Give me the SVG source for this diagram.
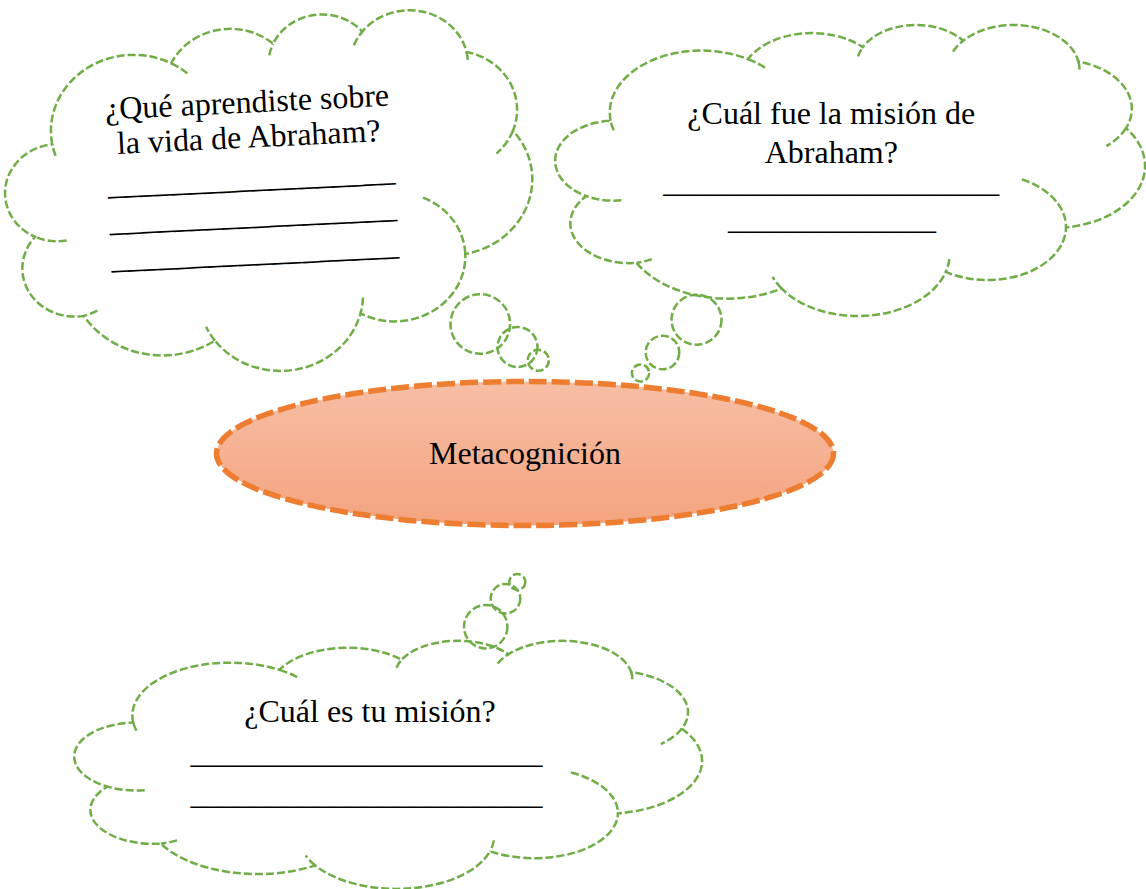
<svg xmlns="http://www.w3.org/2000/svg" xmlns:xlink="http://www.w3.org/1999/xlink" width="1146" height="889" viewBox="0 0 1146 889">
<defs>
<style>
.t{font-family:"Liberation Serif","Times New Roman",serif;font-size:32px;fill:#000;text-anchor:middle}
.bubble{fill:none;stroke:#70ad47;stroke-width:2.5;stroke-dasharray:8 3}
</style>
<linearGradient id="og" x1="0" y1="0" x2="0" y2="1">
<stop offset="0" stop-color="#f7bea4"/>
<stop offset="1" stop-color="#f4a47f"/>
</linearGradient>
<path id="cloudOutline" fill="#ffffff" stroke="#70ad47" stroke-width="2.5" stroke-dasharray="8 3" vector-effect="non-scaling-stroke" d="M3900 14370A6753 9190 0 0 1 14005 5202A5333 7267 0 0 1 22456 3432A4365 5945 0 0 1 29833 2481A4857 6595 0 0 1 38318 5576A5333 7273 0 0 1 41818 15459A6775 9220 0 0 1 37404 30202A5785 7867 0 0 1 28556 36812A6752 9215 0 0 1 16480 39263A7720 10543 0 0 1 5805 35469A4360 5918 0 0 1 2114 25547A4345 5945 0 0 1 3900 14370Z"/>
<path id="cloudCreases" fill="none" stroke="#70ad47" stroke-width="2.5" stroke-dasharray="8 3" vector-effect="non-scaling-stroke" d="M4693 26177A4345 5945 0 0 1 2114 25547M6928 34899A4360 5918 0 0 1 5805 35469M16480 39263A6752 9215 0 0 1 15812 37523M28823 34903A6752 9215 0 0 1 28556 36812M34155 23068A5785 7867 0 0 1 37404 30202M41818 15459A5333 7273 0 0 1 40371 18136M38318 5576A4857 6595 0 0 1 38395 6840M29091 4093A4857 6595 0 0 1 29833 2481M22097 4822A4365 5945 0 0 1 22456 3432M14005 5202A6753 9190 0 0 1 15305 6550M4127 15789A6753 9190 0 0 1 3900 14370"/>
</defs>
<rect width="1146" height="889" fill="#ffffff"/>

<g id="cloud-vida-abraham">
<g transform="rotate(-2.8 270 193)">
<use xlink:href="#cloudOutline" transform="translate(7.5 16) scale(0.0121528 0.0081944)"/>
<use xlink:href="#cloudCreases" transform="translate(7.5 16) scale(0.0121528 0.0081944)"/>
<text class="t" x="251.5" y="111.6">¿Qué aprendiste sobre</text>
<text class="t" x="251.5" y="146.6">la vida de Abraham?</text>
<text class="t" x="252" y="186.7">__________________</text>
<text class="t" x="252" y="223.3">__________________</text>
<text class="t" x="252" y="260.7">__________________</text>
</g>
</g>

<g id="cloud-mision-abraham">
<use xlink:href="#cloudOutline" transform="translate(557.6 24) scale(0.0135926 0.0067361)"/>
<use xlink:href="#cloudCreases" transform="translate(557.6 24) scale(0.0135926 0.0067361)"/>
<text class="t" x="831.3" y="124">¿Cuál fue la misión de</text>
<text class="t" x="831.3" y="163.3">Abraham?</text>
<text class="t" x="831.3" y="191.8">_____________________</text>
<text class="t" x="832" y="229.1">_____________</text>
</g>

<g id="cloud-tu-mision">
<use xlink:href="#cloudOutline" transform="translate(76.8 640) scale(0.0144676 0.0057407)"/>
<use xlink:href="#cloudCreases" transform="translate(76.8 640) scale(0.0144676 0.0057407)"/>
<text class="t" x="370" y="721.7">¿Cuál es tu misión?</text>
<text class="t" x="366.5" y="762.8">______________________</text>
<text class="t" x="366.5" y="804.1">______________________</text>
</g>

<g id="connectors">
<g id="tail-vida-abraham">
<circle class="bubble" cx="480.3" cy="324" r="29.8"/>
<circle class="bubble" cx="517.5" cy="347" r="20"/>
<circle class="bubble" cx="538.3" cy="360.3" r="10.5"/>
</g>
<g id="tail-mision-abraham">
<circle class="bubble" cx="696.5" cy="319.7" r="25"/>
<circle class="bubble" cx="662.5" cy="352.5" r="16.8"/>
<circle class="bubble" cx="640.5" cy="373" r="8.6"/>
</g>
<g id="tail-tu-mision">
<circle class="bubble" cx="485.7" cy="626.7" r="21.7"/>
<circle class="bubble" cx="505.5" cy="598.7" r="14.8"/>
<circle class="bubble" cx="517.3" cy="582" r="8"/>
</g>
</g>

<g id="metacognicion">
<ellipse cx="525" cy="453.5" rx="308.5" ry="72" fill="url(#og)" stroke="#ed7d31" stroke-width="5.5" stroke-dasharray="18 5"/>
<text class="t" x="525" y="464">Metacognición</text>
</g>
</svg>
